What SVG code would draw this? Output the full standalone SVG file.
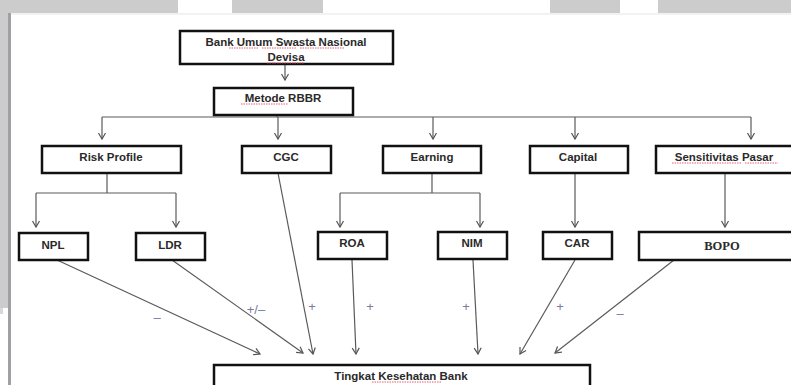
<svg xmlns="http://www.w3.org/2000/svg" width="791" height="385" viewBox="0 0 791 385">
<defs>
<marker id="arr" markerWidth="10" markerHeight="10" refX="7" refY="4" orient="auto" markerUnits="userSpaceOnUse">
<path d="M1,0.5 L7,4 L1,7.5" fill="none" stroke="#555" stroke-width="1.2"/>
</marker>
</defs>
<style>
.box{fill:#fff;stroke:#111;stroke-width:2.5}
.t{font-family:"Liberation Sans",Arial,sans-serif;font-weight:bold;font-size:11.5px;fill:#2a2a2a;text-anchor:middle}
.ts{font-family:"Liberation Serif","Times New Roman",serif;font-weight:bold;font-size:12.5px;fill:#2a2a2a;text-anchor:middle}
.ln{fill:none;stroke:#5a5a5a;stroke-width:1.2}
.ar{fill:none;stroke:#5a5a5a;stroke-width:1.2;marker-end:url(#arr)}
.lb{font-family:"Liberation Sans",Arial,sans-serif;font-size:13px;fill:#7a7aa0;text-anchor:middle}
.sp{fill:none;stroke:#e05060;stroke-width:0.9;stroke-dasharray:1.5 1}
</style>
<rect x="0" y="0" width="791" height="385" fill="#fff"/>
<g id="page-frame">
<rect x="0" y="0" width="178" height="13" fill="#cccccc"/>
<rect x="232" y="0" width="91" height="13" fill="#cccccc"/>
<rect x="550" y="0" width="70" height="13" fill="#cccccc"/>
<rect x="658" y="0" width="133" height="13" fill="#cccccc"/>
<rect x="0" y="13" width="8" height="295" fill="#cccccc"/>
<rect x="0" y="308" width="3" height="6" fill="#d8d8d8"/>
<rect x="8" y="13" width="3" height="372" fill="#a0a0a4"/>
<rect x="11" y="13" width="780" height="2" fill="#f2f2f2"/>
</g>
<g id="connectors">
<path class="ar" d="M285,65 V80"/>
<path class="ln" d="M102,117 H751"/>
<path class="ln" d="M277,115 V117"/>
<path class="ar" d="M102,117 V139"/>
<path class="ar" d="M278,117 V139"/>
<path class="ar" d="M433,117 V139"/>
<path class="ar" d="M575,117 V139"/>
<path class="ar" d="M751,117 V139"/>
<path class="ln" d="M107,173 V193 M36,193 H176"/>
<path class="ar" d="M36,193 V227"/>
<path class="ar" d="M176,193 V227"/>
<path class="ln" d="M432,173 V193 M340,193 H480"/>
<path class="ar" d="M340,193 V227"/>
<path class="ar" d="M480,193 V227"/>
<path class="ar" d="M575,173 V227"/>
<path class="ar" d="M725,173 V227"/>
<path class="ar" d="M57,260 L260,354"/>
<path class="ar" d="M172,260 L303,353"/>
<path class="ar" d="M278,173 L313,354"/>
<path class="ar" d="M352,260 L356,354"/>
<path class="ar" d="M473,260 L478,354"/>
<path class="ar" d="M575,260 L520,354"/>
<path class="ar" d="M674,260 L555,353"/>
<text class="lb" x="157" y="322">–</text>
<text class="lb" x="256" y="314">+/–</text>
<text class="lb" x="312" y="311">+</text>
<text class="lb" x="370" y="311">+</text>
<text class="lb" x="466" y="311">+</text>
<text class="lb" x="560" y="311">+</text>
<text class="lb" x="620" y="318">–</text>
</g>
<g id="bank-umum">
<rect class="box" x="180" y="31" width="213" height="33"/>
<text class="t" x="286" y="46">Bank Umum Swasta Nasional</text>
<text class="t" x="286" y="61">Devisa</text>
<path class="sp" d="M229,48 H258 M262,48 H296 M300,48 H345 M267,63 H304"/>
</g>
<g id="metode-rbbr">
<rect class="box" x="214" y="88" width="139" height="27"/>
<text class="t" x="283" y="102">Metode RBBR</text>
<path class="sp" d="M241,104 H288"/>
</g>
<g id="risk-profile">
<rect class="box" x="42" y="146" width="139" height="27"/>
<text class="t" x="111" y="161">Risk Profile</text>
</g>
<g id="cgc">
<rect class="box" x="242" y="146" width="89" height="27"/>
<text class="t" x="286" y="161">CGC</text>
</g>
<g id="earning">
<rect class="box" x="383" y="146" width="98" height="27"/>
<text class="t" x="432" y="161">Earning</text>
</g>
<g id="capital">
<rect class="box" x="530" y="146" width="98" height="27"/>
<text class="t" x="578" y="161">Capital</text>
</g>
<g id="sensitivitas-pasar">
<rect class="box" x="656" y="146" width="140" height="27"/>
<text class="t" x="724" y="161">Sensitivitas Pasar</text>
<path class="sp" d="M672,163 H741 M745,163 H778"/>
</g>
<g id="npl">
<rect class="box" x="19" y="233" width="69" height="27"/>
<text class="t" x="53" y="249">NPL</text>
</g>
<g id="ldr">
<rect class="box" x="136" y="233" width="69" height="27"/>
<text class="t" x="170" y="249">LDR</text>
</g>
<g id="roa">
<rect class="box" x="318" y="232" width="69" height="27"/>
<text class="t" x="352" y="247">ROA</text>
</g>
<g id="nim">
<rect class="box" x="438" y="232" width="69" height="27"/>
<text class="t" x="472" y="247">NIM</text>
</g>
<g id="car">
<rect class="box" x="543" y="232" width="69" height="27"/>
<text class="t" x="577" y="247">CAR</text>
</g>
<g id="bopo">
<rect class="box" x="639" y="232" width="160" height="28"/>
<text class="ts" x="722" y="250">BOPO</text>
</g>
<g id="tingkat-kesehatan-bank">
<rect class="box" x="214" y="365" width="376" height="26"/>
<text class="t" x="401" y="380">Tingkat Kesehatan Bank</text>
<path class="sp" d="M372,382 H441"/>
</g>
</svg>
